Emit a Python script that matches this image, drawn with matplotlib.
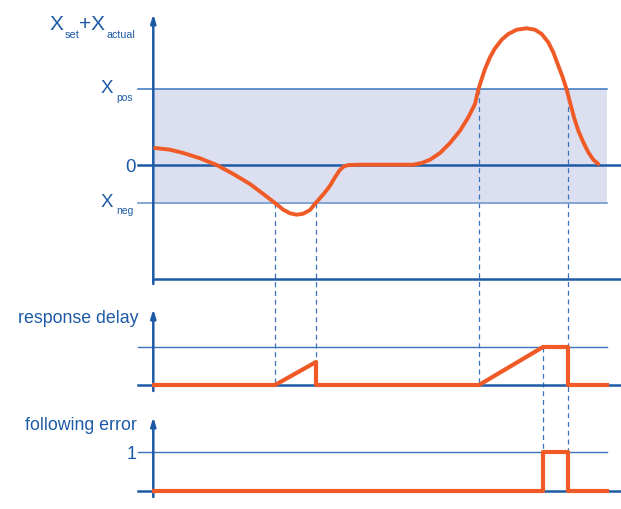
import matplotlib.pyplot as plt

plt.rcParams['font.family'] = ['Liberation Sans', 'DejaVu Sans']

# setpoint/actual deviation curve: time and pixel height
t_curve = [155, 170, 183.3, 200, 216.7, 233.3, 250, 263.3, 275, 283.3, 290,
           296.7, 303.3, 310, 315.7, 320.7, 325, 330, 335, 339.3, 343.3,
           348.3, 360, 385, 413.3, 421.7, 430, 440, 450, 460, 468.3, 475,
           478.3, 481.7, 485, 490, 495, 501.7, 508.3, 516.7, 526.7, 535,
           541.7, 548.3, 553.3, 558.3, 562.7, 566.7, 570, 574, 578.3, 583.3,
           588.3, 593.3, 598.3]
y_curve_px = [149, 150.7, 154, 159.3, 166, 175, 185, 195, 204, 210.7, 214.3,
              215.7, 214.7, 211, 204, 198.3, 193.3, 186.7, 178.3, 171.7,
              167.7, 166, 165.7, 165.7, 165.7, 164, 160.7, 154, 144, 131.7,
              118.3, 105, 90.7, 80, 70, 58.3, 49.3, 40.7, 35, 30.7, 29.3,
              30.7, 35, 43.3, 53.3, 66.7, 78.3, 90.7, 103.3, 118.3, 131.7,
              143.3, 153.3, 160.7, 165]
x_pos = 76
x_neg = -38

# response delay
t_delay = [154, 275, 316, 316, 479, 543, 568, 568, 607]
v_delay = [0, 0, 23, 0, 0, 38, 38, 0, 0]

# following error (0/1)
t_ferr = [154, 543, 543, 568, 568, 607]
v_ferr = [0, 0, 1, 1, 0, 0]

BLUE = '#1d5aa6'
LBLUE = '#3b74bd'
ORANGE = '#ef5a26'
BAND = '#dcdfef'

fig = plt.figure(figsize=(6.21, 5.10), dpi=100)
ax = fig.add_axes([0, 0, 1, 1])
ax.set_xlim(0, 621)
ax.set_ylim(510, 0)
ax.set_axis_off()

y0 = 166      # zero line of main panel
yd = 386      # baseline of response delay
yf = 492.3    # baseline of following error
fscale = 39.5
x_ax = 153.3

# main panel band
ax.fill_between([x_ax, 607], y0 - x_pos, y0 - x_neg, color=BAND, lw=0, zorder=0)
ax.plot([138, 607], [y0 - x_pos] * 2, color=LBLUE, lw=1.1)
ax.plot([138, 607], [y0 - x_neg] * 2, color='#7b9fd0', lw=1.3)
ax.plot([138, 621], [y0, y0], color=BLUE, lw=1.8)
ax.plot([x_ax, 621], [280, 280], color=BLUE, lw=1.8)

# response delay / following error guide lines
ax.plot([138, 607], [yd - 38] * 2, color=LBLUE, lw=1.0)
ax.plot([138, 621], [yd, yd], color=BLUE, lw=1.8)
ax.plot([138, 607], [yf - fscale] * 2, color=LBLUE, lw=1.0)
ax.plot([138, 621], [yf, yf], color=BLUE, lw=1.8)

# vertical axes with arrows
for top, bot in [(15, 285), (310, 392), (418, 498)]:
    ax.annotate('', xy=(x_ax, top), xytext=(x_ax, bot),
                arrowprops=dict(arrowstyle='-|>,head_length=0.5,head_width=0.15',
                                color=BLUE, lw=1.8, shrinkA=0, shrinkB=0))

# dashed markers
dash_kw = dict(color=LBLUE, lw=0.9, ls=(0, (4, 3)), zorder=1)
ax.plot([275, 275], [y0 - x_neg, yd], **dash_kw)
ax.plot([316, 316], [y0 - x_neg, yd], **dash_kw)
ax.plot([479, 479], [y0 - x_pos, yd], **dash_kw)
ax.plot([568, 568], [y0 - x_pos, yf], **dash_kw)
ax.plot([543, 543], [yd - 38, yf], **dash_kw)

# signals
ax.plot(t_curve, y_curve_px, color=ORANGE, lw=2.8,
        solid_capstyle='round', solid_joinstyle='round', zorder=5)
ax.plot(t_delay, [yd - v for v in v_delay], color=ORANGE, lw=3.0, zorder=5)
ax.plot(t_ferr, [yf - v * fscale for v in v_ferr], color=ORANGE, lw=3.0,
        zorder=5)

# labels
tk = dict(color=BLUE, va='baseline')
ax.text(50, 30, 'X', fontsize=15, **tk)
ax.text(65, 37.5, 'set', fontsize=8, **tk)
ax.text(79, 30, '+X', fontsize=15, **tk)
ax.text(106.5, 38, 'actual', fontsize=7.7, **tk)
ax.text(101, 93, 'X', fontsize=13.5, **tk)
ax.text(116.5, 101, 'pos', fontsize=7.5, **tk)
ax.text(101, 207, 'X', fontsize=13.5, **tk)
ax.text(116.5, 214, 'neg', fontsize=7.5, **tk)
ax.text(135.5, 172.5, '0', fontsize=13.5, ha='right', **tk)
ax.text(138.5, 323.3, 'response delay', fontsize=12.8, ha='right', **tk)
ax.text(137, 430, 'following error', fontsize=12.8, ha='right', **tk)
ax.text(136.5, 459.5, '1', fontsize=13, ha='right', **tk)

fig.savefig('out.png', dpi=100)
